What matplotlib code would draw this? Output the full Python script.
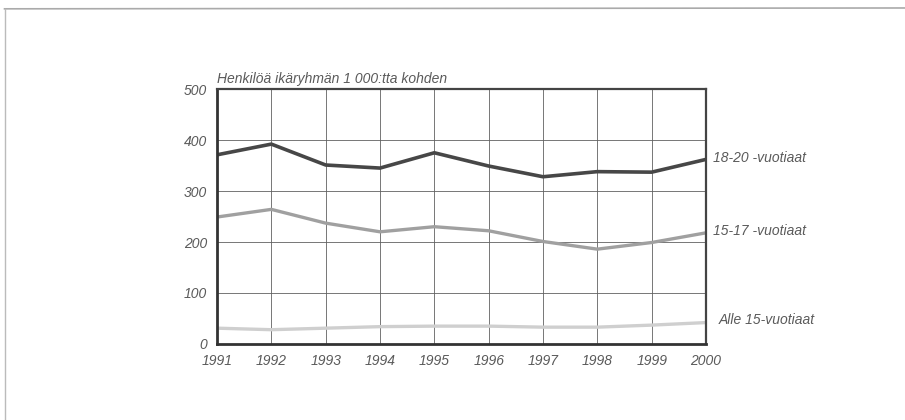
import matplotlib.pyplot as plt
from matplotlib.lines import Line2D

years = [1991, 1992, 1993, 1994, 1995, 1996, 1997, 1998, 1999, 2000]
age_18_20 = [371, 392, 351, 345, 375, 349, 328, 338, 337, 362]
age_15_17 = [249, 264, 237, 220, 230, 222, 201, 186, 199, 218]
under_15 = [31, 28, 31, 34, 35, 35, 33, 33, 37, 42]

series_labels = ['18-20 -vuotiaat', '15-17 -vuotiaat', 'Alle 15-vuotiaat']
y_ticks = [0, 100, 200, 300, 400, 500]
y_title = 'Henkilöä ikäryhmän 1 000:tta kohden'

font = ['Liberation Sans Narrow', 'DejaVu Sans Condensed', 'Liberation Sans']
txt_color = '#5a5a5a'

fig = plt.figure(figsize=(9.05, 4.2), dpi=100)
ax = fig.add_axes([0.2398, 0.181, 0.5403, 0.607])

ax.plot(years, under_15, color='#cfcfcf', lw=2.4, solid_capstyle='butt')
ax.plot(years, age_15_17, color='#a0a0a0', lw=2.4, solid_capstyle='butt')
ax.plot(years, age_18_20, color='#474747', lw=2.6, solid_capstyle='butt')

ax.set_xlim(1991, 2000)
ax.set_ylim(0, 500)
ax.set_xticks(years)
ax.set_yticks(y_ticks)
ax.grid(True, color='#606060', lw=0.6)
ax.set_axisbelow(True)
ax.tick_params(length=0, pad=7)
for lab in ax.get_xticklabels() + ax.get_yticklabels():
    lab.set_family(font)
    lab.set_style('italic')
    lab.set_fontsize(10)
    lab.set_color(txt_color)

for side in ['left', 'bottom']:
    ax.spines[side].set_linewidth(2.0)
    ax.spines[side].set_color('#333333')
for side in ['top', 'right']:
    ax.spines[side].set_linewidth(1.6)
    ax.spines[side].set_color('#444444')

# sarjojen nimet oikealle
ax.annotate(series_labels[0], (years[-1], age_18_20[-1]), xytext=(5, 1),
            textcoords='offset points', va='center', ha='left',
            family=font, style='italic', fontsize=10, color=txt_color)
ax.annotate(series_labels[1], (years[-1], age_15_17[-1]), xytext=(5, 1),
            textcoords='offset points', va='center', ha='left',
            family=font, style='italic', fontsize=10, color=txt_color)
ax.annotate(series_labels[2], (years[-1], under_15[-1]), xytext=(9, 2),
            textcoords='offset points', va='center', ha='left',
            family=font, style='italic', fontsize=10, color=txt_color)

ax.text(0, 1.012, y_title, transform=ax.transAxes, ha='left', va='bottom',
        family=font, style='italic', fontsize=10, color=txt_color)

# sivun kehys
fig.add_artist(Line2D([0.005, 1.0], [0.979, 0.981], color='#aaaaaa', lw=1.2))
fig.add_artist(Line2D([0.006, 0.006], [0.0, 0.979], color='#bbbbbb', lw=1.0))

fig.savefig('out.png', dpi=100)
